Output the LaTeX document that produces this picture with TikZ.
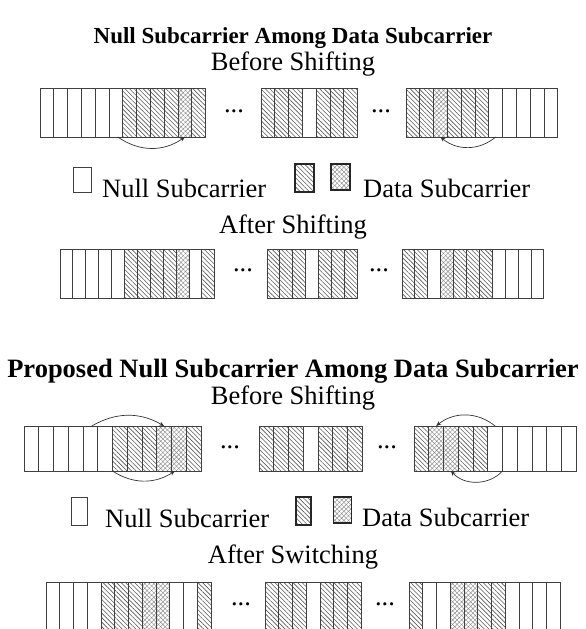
\documentclass[tikz,border=0pt]{standalone}
\usepackage{fontspec}
\setmainfont{Liberation Serif}
\usetikzlibrary{patterns.meta,arrows.meta}

\tikzset{
  cell/.style={draw=black!75, line width=0.9pt, inner sep=0pt, outer sep=0pt},
  celln/.style={cell, fill=white},
  celld/.style={cell, pattern={Lines[angle=-45,distance=3.2pt,line width=0.6pt]}, pattern color=black!65},
  cellx/.style={cell, pattern={Hatch[angle=45,distance=3.2pt,line width=0.45pt]}, pattern color=black!45},
  key/.style={draw=black!85, line width=1.3pt, inner sep=0pt},
  lbl/.style={inner sep=0pt, font=\fontsize{26.5}{30}\selectfont},
  ttl/.style={inner sep=0pt, font=\fontsize{26.5}{30}\selectfont\bfseries},
  arr/.style={-{Stealth[length=5pt,width=4pt]}, line width=0.7pt, black!80}
}

\begin{document}
\begin{tikzpicture}[x=1pt,y=-1pt]
	\useasboundingbox (0,0) rectangle (586,629);
	
	% first scheme
	\node[ttl, font=\fontsize{23}{27}\selectfont\bfseries] (titleA) at (293,38) {Null Subcarrier Among Data Subcarrier};
	\node[lbl] (subA) at (293,64) {Before Shifting};
	
	\foreach \t [count=\i] in {n,n,n,n,n,n,d,d,d,d,x,d}
		\node[cell\t, minimum width=13.8, minimum height=49] (aL\i) at ({40+13.8*(\i-.5)},112.5) {};
	\foreach \t [count=\i] in {d,d,d,n,d,d,d}
		\node[cell\t, minimum width=13.8, minimum height=49] (aM\i) at ({261+13.8*(\i-.5)},112.5) {};
	\foreach \t [count=\i] in {d,d,x,d,d,d,n,n,n,n,n}
		\node[cell\t, minimum width=13.8, minimum height=49] (aR\i) at ({406+13.8*(\i-.5)},112.5) {};
	\node[lbl, anchor=base] (dotsA1) at (234,112) {...};
	\node[lbl, anchor=base] (dotsA2) at (381,112) {...};
	
	\draw[arr] ([xshift=-5pt]aL7.south west) to[bend right=35] (aL11.south);
	\draw[arr] (aR7.south) to[bend left=40] (aR3.south);
	
	\node[key, celln, minimum width=18, minimum height=25] (knA) at (82.5,179.5) {};
	\node[lbl, anchor=base west] (nullA) at (102,197) {Null Subcarrier};
	\node[celld, key, minimum width=19, minimum height=28] (kdA) at (304.5,178) {};
	\node[cellx, key, minimum width=19, minimum height=26] (kxA) at (340.5,177) {};
	\node[lbl, anchor=base west] (dataA) at (363,197) {Data Subcarrier};
	
	\node[lbl] (subB) at (293,227) {After Shifting};
	\foreach \t [count=\i] in {n,n,n,n,n,d,d,d,d,x,n,d}
		\node[cell\t, minimum width=12.9, minimum height=49] (bL\i) at ({60+12.9*(\i-.5)},273.5) {};
	\foreach \t [count=\i] in {d,d,d,n,d,d,d}
		\node[cell\t, minimum width=12.9, minimum height=49] (bM\i) at ({267+12.9*(\i-.5)},273.5) {};
	\foreach \t [count=\i] in {d,d,n,x,d,d,d,n,n,n,n}
		\node[cell\t, minimum width=12.9, minimum height=49] (bR\i) at ({402+12.9*(\i-.5)},273.5) {};
	\node[lbl, anchor=base] (dotsB1) at (243,271.5) {...};
	\node[lbl, anchor=base] (dotsB2) at (379,271.5) {...};
	
	% proposed scheme
	\node[ttl] (titleB) at (293,371) {Proposed Null Subcarrier Among Data Subcarrier};
	\node[lbl] (subC) at (293,398) {Before Shifting};
	
	\foreach \t [count=\i] in {n,n,n,n,n,n,d,d,d,x,x,d}
		\node[cell\t, minimum width=14.75, minimum height=45] (cL\i) at ({24+14.75*(\i-.5)},448.5) {};
	\foreach \t [count=\i] in {d,d,d,n,d,d,d}
		\node[cell\t, minimum width=14.75, minimum height=45] (cM\i) at ({259+14.75*(\i-.5)},448.5) {};
	\foreach \t [count=\i] in {d,x,x,d,d,n,n,n,n,n,n}
		\node[cell\t, minimum width=14.75, minimum height=45] (cR\i) at ({414+14.75*(\i-.5)},448.5) {};
	\node[lbl, anchor=base] (dotsC1) at (230,448.5) {...};
	\node[lbl, anchor=base] (dotsC2) at (387,448.5) {...};
	
	\draw[arr] ([xshift=-6pt]cL6.north west) to[bend left=30] (cL10.north);
	\draw[arr] (cL7.south west) to[bend right=33] ([xshift=-4pt]cL11.south);
	\draw[arr] (cR6.north) to[bend right=39] (cR2.north);
	\draw[arr] (cR7.south west) to[bend left=47] (cR3.south);
	
	\node[key, celln, minimum width=16, minimum height=28] (knC) at (79,511) {};
	\node[lbl, anchor=base west] (nullC) at (105,527) {Null Subcarrier};
	\node[celld, key, minimum width=15, minimum height=28] (kdC) at (303.5,511) {};
	\node[cellx, key, minimum width=18, minimum height=26] (kxC) at (342.5,510) {};
	\node[lbl, anchor=base west] (dataC) at (362,526) {Data Subcarrier};
	
	\node[lbl] (subD) at (293,557) {After Switching};
	\foreach \t [count=\i] in {n,n,n,n,d,d,d,x,x,n,n,d}
		\node[cell\t, minimum width=13.75, minimum height=50] (dL\i) at ({46+13.75*(\i-.5)},607) {};
	\foreach \t [count=\i] in {d,d,d,n,d,d,d}
		\node[cell\t, minimum width=13.75, minimum height=50] (dM\i) at ({265+13.75*(\i-.5)},607) {};
	\foreach \t [count=\i] in {d,n,n,x,x,d,d,n,n,n,n}
		\node[cell\t, minimum width=13.75, minimum height=50] (dR\i) at ({409+13.75*(\i-.5)},607) {};
	\node[lbl, anchor=base] (dotsD1) at (241,605.5) {...};
	\node[lbl, anchor=base] (dotsD2) at (385,605.5) {...};
\end{tikzpicture}
\end{document}
